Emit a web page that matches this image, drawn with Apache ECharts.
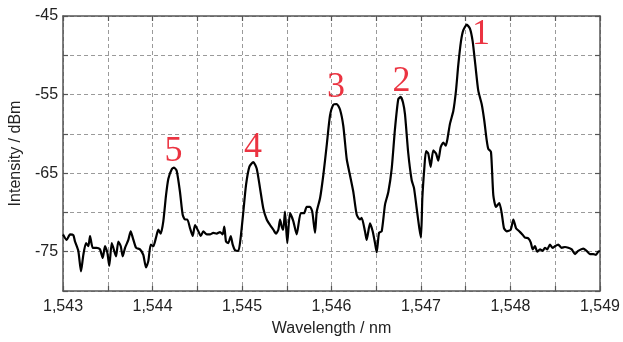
<!DOCTYPE html>
<html>
<head>
<meta charset="utf-8">
<script src="https://cdn.jsdelivr.net/npm/echarts@6/dist/echarts.min.js"></script>
<style>
html,body{margin:0;padding:0;background:#fff;}
#chart{width:623px;height:342px;}
</style>
</head>
<body>
<div id="chart"></div>
<script>
// Spectrum trace: wavelength (nm) and intensity (dBm)
const wavelength = [
1543.000,1543.041,1543.078,1543.115,1543.134,1543.171,1543.201,1543.227,1543.257,1543.283,
1543.302,1543.332,1543.377,1543.413,1543.444,1543.469,1543.495,1543.517,1543.544,1543.562,
1543.592,1543.618,1543.645,1543.667,1543.693,1543.730,1543.756,1543.779,1543.816,1543.860,
1543.897,1543.927,1543.953,1543.980,1544.009,1544.039,1544.065,1544.092,1544.121,1544.151,
1544.177,1544.215,1544.240,1544.270,1544.307,1544.337,1544.363,1544.389,1544.419,1544.449,
1544.475,1544.512,1544.539,1544.568,1544.606,1544.642,1544.679,1544.717,1544.754,1544.784,
1544.802,1544.821,1544.847,1544.874,1544.896,1544.922,1544.959,1544.985,1545.015,1545.045,
1545.082,1545.126,1545.164,1545.201,1545.238,1545.276,1545.313,1545.350,1545.380,1545.406,
1545.425,1545.444,1545.461,1545.480,1545.506,1545.536,1545.573,1545.611,1545.656,1545.693,
1545.723,1545.760,1545.785,1545.816,1545.835,1545.872,1545.908,1545.946,1545.983,1546.020,
1546.058,1546.095,1546.132,1546.170,1546.207,1546.244,1546.282,1546.318,1546.337,1546.374,
1546.393,1546.430,1546.460,1546.486,1546.505,1546.531,1546.561,1546.598,1546.635,1546.673,
1546.709,1546.746,1546.773,1546.799,1546.821,1546.858,1546.896,1546.922,1546.952,1546.981,
1547.000,1547.015,1547.037,1547.056,1547.081,1547.108,1547.137,1547.168,1547.193,1547.220,
1547.249,1547.276,1547.293,1547.324,1547.361,1547.391,1547.417,1547.447,1547.473,1547.511,
1547.547,1547.577,1547.607,1547.640,1547.678,1547.707,1547.734,1547.752,1547.782,1547.808,
1547.838,1547.875,1547.902,1547.927,1547.958,1548.002,1548.032,1548.062,1548.098,1548.125,
1548.162,1548.199,1548.226,1548.248,1548.274,1548.299,1548.330,1548.360,1548.385,1548.411,
1548.441,1548.471,1548.497,1548.534,1548.572,1548.609,1548.646,1548.684,1548.721,1548.757,
1548.813,1548.851,1548.888,1548.925,1548.955,1548.981,1549.000
];
const intensity = [
-72.8,-73.5,-72.8,-72.9,-73.7,-74.9,-77.5,-75.4,-73.9,-74.3,
-73.0,-74.5,-74.5,-74.7,-75.8,-74.3,-75.1,-76.8,-73.9,-74.5,
-75.6,-73.7,-74.3,-75.6,-74.5,-73.5,-72.4,-73.2,-74.5,-74.7,
-75.4,-77.0,-76.2,-74.1,-74.3,-73.2,-72.2,-72.7,-71.1,-67.8,
-65.7,-64.5,-64.3,-64.7,-67.4,-70.3,-70.9,-70.9,-72.0,-73.0,
-71.6,-72.4,-73.0,-72.4,-72.8,-72.8,-72.6,-72.7,-72.5,-72.8,
-71.8,-73.7,-73.9,-73.0,-74.1,-74.8,-74.9,-73.2,-69.9,-66.5,
-64.2,-63.6,-64.4,-66.9,-69.5,-70.9,-71.6,-72.2,-72.7,-72.2,
-70.9,-71.8,-72.2,-69.9,-73.9,-70.1,-71.1,-72.8,-70.1,-70.1,
-69.3,-69.3,-69.9,-72.6,-69.9,-68.2,-65.3,-61.5,-57.7,-56.3,
-56.2,-56.9,-59.0,-63.2,-65.3,-67.4,-70.3,-70.9,-70.7,-72.4,
-73.5,-71.4,-72.4,-73.9,-75.1,-72.6,-72.4,-69.0,-67.4,-64.4,
-59.4,-55.6,-55.3,-56.0,-57.5,-62.5,-65.9,-66.9,-69.5,-72.0,
-73.2,-68.2,-64.4,-62.2,-62.5,-64.2,-62.1,-62.5,-63.4,-61.7,
-61.1,-61.5,-60.8,-58.7,-57.1,-54.5,-51.2,-48.2,-46.8,-46.1,
-46.6,-48.2,-51.2,-54.5,-56.2,-58.3,-60.8,-61.9,-62.3,-67.8,
-69.3,-68.8,-70.1,-72.0,-72.4,-72.2,-70.9,-72.0,-72.4,-72.7,
-73.2,-73.3,-73.8,-74.7,-74.3,-75.0,-74.7,-74.9,-74.5,-74.7,
-74.1,-74.5,-74.3,-74.1,-74.5,-74.4,-74.5,-74.7,-75.3,-74.9,
-74.6,-74.9,-75.3,-75.3,-75.4,-75.0,-74.9
];
// Peak annotations
const peakNames = ['1','2','3','4','5'];
const peakLabelX = [1547.670, 1546.782, 1546.050, 1545.123, 1544.235];
const peakLabelY = [-47.35, -53.28, -54.1, -61.8, -62.3];
// Axis settings
const xMin = 1543, xMax = 1549, xStep = 0.5;
const yMin = -80, yMax = -45, yStep = 5;

const traceData = wavelength.map((w, i) => [w, intensity[i]]);
const peakData = peakNames.map((n, i) => ({ name: n, value: [peakLabelX[i], peakLabelY[i]] }));

const axisColor = '#555';
const textColor = '#222';
const fontFam = '"Liberation Sans", Arial, sans-serif';

const chart = echarts.init(document.getElementById('chart'), null, { renderer: 'canvas' });
chart.setOption({
  animation: false,
  backgroundColor: '#fff',
  grid: { left: 63, right: 23, top: 16, bottom: 49, containLabel: false },
  xAxis: [
    {
      type: 'value', min: xMin, max: xMax, interval: xStep, position: 'bottom',
      name: 'Wavelength / nm', nameLocation: 'middle', nameGap: 30,
      nameTextStyle: { fontSize: 16, color: textColor, fontFamily: fontFam },
      axisLine: { show: true, onZero: false, lineStyle: { color: axisColor, width: 1.5 } },
      axisTick: { show: true, inside: true, length: 5, lineStyle: { color: axisColor, width: 1.2 } },
      axisLabel: {
        margin: 8, fontSize: 16, color: textColor, fontFamily: fontFam,
        formatter: v => Number.isInteger(v) ? v.toLocaleString('en-US') : ''
      },
      splitLine: { show: true, lineStyle: { color: '#9a9a9a', type: [4, 3], width: 1 } }
    },
    {
      type: 'value', min: xMin, max: xMax, interval: xStep, position: 'top',
      axisLine: { show: true, onZero: false, lineStyle: { color: axisColor, width: 1.5 } },
      axisTick: { show: true, inside: true, length: 5, lineStyle: { color: axisColor, width: 1.2 } },
      axisLabel: { show: false }, splitLine: { show: false }
    }
  ],
  yAxis: [
    {
      type: 'value', min: yMin, max: yMax, interval: yStep, position: 'left',
      name: 'Intensity / dBm', nameLocation: 'middle', nameGap: 37,
      nameTextStyle: { fontSize: 16, color: textColor, fontFamily: fontFam },
      axisLine: { show: true, onZero: false, lineStyle: { color: axisColor, width: 1.5 } },
      axisTick: { show: true, inside: true, length: 5, lineStyle: { color: axisColor, width: 1.2 } },
      axisLabel: {
        margin: 5, fontSize: 16, color: textColor, fontFamily: fontFam,
        formatter: v => ((v + 75) % 10 === 0 ? String(v) : '')
      },
      splitLine: { show: true, lineStyle: { color: '#9a9a9a', type: [4, 3], width: 1 } }
    },
    {
      type: 'value', min: yMin, max: yMax, interval: yStep, position: 'right',
      axisLine: { show: true, onZero: false, lineStyle: { color: axisColor, width: 1.5 } },
      axisTick: { show: true, inside: true, length: 5, lineStyle: { color: axisColor, width: 1.2 } },
      axisLabel: { show: false }, splitLine: { show: false }
    }
  ],
  series: [
    {
      type: 'line', data: traceData, xAxisIndex: 0, yAxisIndex: 0,
      showSymbol: false, symbol: 'none', smooth: 0.2,
      lineStyle: { color: '#000', width: 2.2 }, z: 3
    },
    {
      type: 'scatter', data: peakData, xAxisIndex: 0, yAxisIndex: 0,
      symbolSize: 0, silent: true,
      label: {
        show: true, position: 'inside', formatter: p => p.name,
        fontSize: 36, color: '#e60012',
        fontFamily: '"Liberation Serif", "Times New Roman", serif'
      },
      z: 4
    }
  ]
});
</script>
</body>
</html>
